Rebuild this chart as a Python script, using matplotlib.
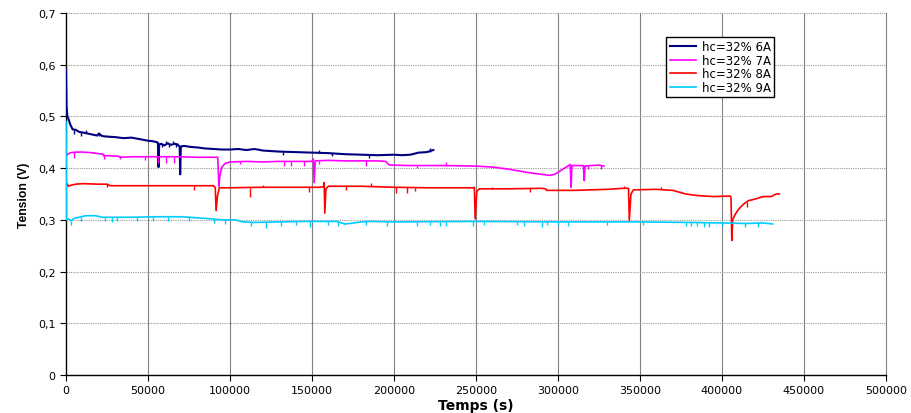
import matplotlib
matplotlib.use("Agg")
import matplotlib.pyplot as plt
from matplotlib.ticker import FuncFormatter, MultipleLocator

plt.rcParams['font.family'] = ['DejaVu Sans']

labels = ["hc=32% 6A", "hc=32% 7A", "hc=32% 8A", "hc=32% 9A"]
colors = ["#000080", "#FF00FF", "#FF0000", "#00CCFF"]

# main traces (time s, tension V)
s6 = [(0, 0.59), (300, 0.52), (800, 0.50), (1500, 0.495), (2500, 0.485), (4000, 0.475),
      (6000, 0.474), (8000, 0.470), (10000, 0.469), (13000, 0.467), (16000, 0.465),
      (19000, 0.463), (20000, 0.467), (22000, 0.462), (25000, 0.461), (30000, 0.460),
      (35000, 0.458), (40000, 0.459), (45000, 0.456), (50000, 0.453), (53000, 0.452),
      (55500, 0.450), (56000, 0.449), (56400, 0.402), (56800, 0.446), (58000, 0.447),
      (60000, 0.444), (62000, 0.448), (64000, 0.445), (66000, 0.447), (68000, 0.446),
      (69300, 0.441), (69600, 0.388), (70000, 0.442), (72000, 0.443), (76000, 0.441),
      (80000, 0.440), (85000, 0.438), (90000, 0.437), (95000, 0.436), (100000, 0.436),
      (105000, 0.437), (110000, 0.435), (115000, 0.437), (120000, 0.434), (125000, 0.433),
      (130000, 0.432), (140000, 0.431), (150000, 0.430), (160000, 0.429), (170000, 0.427),
      (180000, 0.426), (190000, 0.425), (200000, 0.426), (205000, 0.425), (210000, 0.426),
      (215000, 0.430), (220000, 0.431), (224000, 0.435)]

s7 = [(500, 0.425), (1500, 0.428), (3000, 0.430), (6000, 0.431), (10000, 0.431),
      (15000, 0.430), (20000, 0.428), (22500, 0.427), (23000, 0.424), (26000, 0.424),
      (32000, 0.423), (33000, 0.421), (40000, 0.422), (50000, 0.422), (60000, 0.422),
      (70000, 0.422), (80000, 0.421), (90000, 0.421), (92500, 0.421), (93200, 0.365),
      (93800, 0.385), (95000, 0.402), (97000, 0.409), (100000, 0.412), (110000, 0.413),
      (120000, 0.412), (130000, 0.413), (140000, 0.413), (150000, 0.413), (150800, 0.418),
      (151300, 0.372), (152000, 0.414), (160000, 0.415), (170000, 0.414), (180000, 0.414),
      (190000, 0.414), (195000, 0.413), (197000, 0.406), (210000, 0.405), (230000, 0.405),
      (250000, 0.404), (260000, 0.402), (270000, 0.398), (275000, 0.395), (285000, 0.390),
      (295000, 0.386), (298000, 0.388), (302000, 0.396), (306000, 0.404), (307500, 0.407),
      (308000, 0.363), (308500, 0.405), (312000, 0.405), (315500, 0.405), (316000, 0.376),
      (316500, 0.404), (320000, 0.405), (325000, 0.406), (328000, 0.404)]

s8 = [(0, 0.372), (500, 0.370), (1500, 0.365), (3000, 0.367), (6000, 0.369),
      (10000, 0.370), (20000, 0.369), (25000, 0.369), (27000, 0.366), (40000, 0.366),
      (60000, 0.366), (80000, 0.366), (90000, 0.366), (91000, 0.362), (91500, 0.318),
      (92300, 0.345), (93500, 0.362), (100000, 0.362), (120000, 0.363), (140000, 0.363),
      (155000, 0.363), (157000, 0.364), (157400, 0.372), (157800, 0.313), (158500, 0.360),
      (160000, 0.365), (180000, 0.365), (200000, 0.363), (220000, 0.362), (240000, 0.362),
      (248500, 0.362), (249000, 0.363), (249500, 0.302), (250500, 0.355), (252000, 0.360),
      (270000, 0.360), (290000, 0.361), (292500, 0.360), (293000, 0.357), (310000, 0.357),
      (330000, 0.359), (340000, 0.361), (343000, 0.361), (343500, 0.299), (344500, 0.350),
      (346000, 0.358), (360000, 0.359), (370000, 0.357), (378000, 0.350), (385000, 0.347),
      (395000, 0.345), (405000, 0.346), (405500, 0.344), (406000, 0.260), (406500, 0.300),
      (408000, 0.310), (410000, 0.320), (413000, 0.330), (416000, 0.337), (420000, 0.340),
      (425000, 0.345), (430000, 0.345), (433000, 0.350), (435000, 0.350)]

s9 = [(0, 0.49), (200, 0.300), (1500, 0.302), (3000, 0.298), (5000, 0.303), (8000, 0.305),
      (12000, 0.308), (18000, 0.308), (22000, 0.305), (30000, 0.305), (40000, 0.305),
      (55000, 0.306), (70000, 0.306), (80000, 0.304), (88000, 0.302), (95000, 0.300),
      (103000, 0.300), (108000, 0.296), (115000, 0.295), (130000, 0.296), (145000, 0.297),
      (155000, 0.297), (165000, 0.297), (170000, 0.292), (173000, 0.293), (180000, 0.296),
      (185000, 0.297), (200000, 0.296), (250000, 0.297), (300000, 0.296), (350000, 0.296),
      (380000, 0.295), (400000, 0.294), (415000, 0.293), (425000, 0.294), (431000, 0.292)]

# short glitches (time, base, tip)
g6 = [(20000, 0.462, 0.468), (132000, 0.432, 0.426), (154000, 0.430, 0.436),
      (162000, 0.429, 0.424), (185000, 0.425, 0.420), (222000, 0.431, 0.438),
      (58500, 0.447, 0.440), (61000, 0.446, 0.452), (63000, 0.446, 0.440),
      (65000, 0.446, 0.452), (67000, 0.446, 0.440), (5000, 0.474, 0.466),
      (9000, 0.470, 0.463), (12000, 0.468, 0.474)]
g7 = [(5000, 0.431, 0.420), (23000, 0.428, 0.418), (33000, 0.423, 0.418),
      (48000, 0.422, 0.415), (56000, 0.422, 0.410), (61000, 0.422, 0.410),
      (66000, 0.422, 0.410), (106000, 0.413, 0.408), (133000, 0.413, 0.405),
      (137000, 0.413, 0.404), (145000, 0.413, 0.405), (154000, 0.414, 0.408),
      (183000, 0.414, 0.405), (214000, 0.405, 0.400), (232000, 0.405, 0.411),
      (318000, 0.405, 0.399), (326000, 0.406, 0.399)]
g8 = [(25000, 0.369, 0.363), (78000, 0.366, 0.357), (112000, 0.362, 0.345),
      (120000, 0.363, 0.367), (148000, 0.363, 0.354), (171000, 0.365, 0.358),
      (186000, 0.365, 0.372), (201000, 0.363, 0.352), (208000, 0.363, 0.352),
      (213000, 0.362, 0.355), (260000, 0.360, 0.364), (283000, 0.361, 0.353),
      (340000, 0.361, 0.365), (363000, 0.359, 0.364), (415000, 0.335, 0.325)]
g9 = [(3000, 0.298, 0.290), (9000, 0.305, 0.297), (24000, 0.305, 0.297),
      (28000, 0.305, 0.296), (31000, 0.305, 0.297), (43000, 0.305, 0.298),
      (53000, 0.306, 0.298), (62000, 0.306, 0.298), (75000, 0.306, 0.298),
      (90000, 0.302, 0.294), (97000, 0.300, 0.292), (113000, 0.295, 0.288),
      (122000, 0.296, 0.285), (131000, 0.296, 0.289), (140000, 0.297, 0.290),
      (149000, 0.297, 0.287), (160000, 0.297, 0.290), (166000, 0.297, 0.289),
      (183000, 0.297, 0.290), (196000, 0.296, 0.289), (214000, 0.296, 0.289),
      (222000, 0.296, 0.290), (228000, 0.296, 0.289), (232000, 0.297, 0.289),
      (248000, 0.297, 0.288), (255000, 0.297, 0.290), (275000, 0.297, 0.290),
      (279000, 0.297, 0.289), (290000, 0.296, 0.287), (293000, 0.296, 0.290),
      (300000, 0.296, 0.290), (306000, 0.296, 0.289), (330000, 0.296, 0.291),
      (352000, 0.296, 0.290), (378000, 0.295, 0.289), (381000, 0.295, 0.288),
      (385000, 0.295, 0.289), (389000, 0.295, 0.287), (392000, 0.295, 0.287),
      (400000, 0.294, 0.288), (414000, 0.293, 0.287), (422000, 0.294, 0.286)]

series = [s6, s7, s8, s9]
glitches = [g6, g7, g8, g9]
widths = [1.5, 1.2, 1.2, 1.2]

fig = plt.figure(figsize=(9.11, 4.14), dpi=100)
ax = fig.add_axes([0.0725, 0.0918, 0.9, 0.8744])

for s, g, c, lab, w in zip(series, glitches, colors, labels, widths):
    xs = [p[0] for p in s]
    ys = [p[1] for p in s]
    ax.plot(xs, ys, color=c, lw=w, label=lab, zorder=3)
    ax.vlines([p[0] for p in g], [p[1] for p in g], [p[2] for p in g],
              color=c, lw=1.0, zorder=3)

ax.set_xlim(0, 500000)
ax.set_ylim(0, 0.7)
ax.xaxis.set_major_locator(MultipleLocator(50000))
ax.yaxis.set_major_locator(MultipleLocator(0.1))
ax.yaxis.set_major_formatter(FuncFormatter(lambda v, p: "0" if abs(v) < 1e-9 else f"{v:.1f}".replace(".", ",")))
ax.xaxis.set_major_formatter(FuncFormatter(lambda v, p: f"{int(round(v))}"))

ax.grid(False)
for xv in range(50000, 500001, 50000):
    ax.axvline(xv, color="#808080", lw=0.8, zorder=1, clip_on=False)
for yv in [0.1, 0.2, 0.3, 0.4, 0.5, 0.6, 0.7]:
    ax.axhline(yv, color="#9a9a9a", lw=0.8, ls=(0, (1, 1)), zorder=1, clip_on=False)

for sp in ["top", "right"]:
    ax.spines[sp].set_visible(False)
ax.spines["left"].set_color("black")
ax.spines["bottom"].set_color("black")
ax.spines["left"].set_linewidth(1.0)
ax.spines["bottom"].set_linewidth(1.0)

ax.tick_params(axis="both", labelsize=8, length=4, width=0.8, colors="black")
ax.set_xlabel("Temps (s)", fontsize=10, fontweight="bold", labelpad=2)
ax.set_ylabel("Tension (V)", fontsize=8.7, fontweight="bold", labelpad=6,
              family=["Liberation Sans", "DejaVu Sans"])

leg = ax.legend(loc="upper left", bbox_to_anchor=(0.732, 0.935), fontsize=8.5,
                frameon=True, fancybox=False, edgecolor="black", framealpha=1,
                handlelength=2.2, handletextpad=0.5, labelspacing=0.05,
                borderpad=0.3, borderaxespad=0)
leg.get_frame().set_linewidth(1.0)

fig.savefig("out.png", dpi=100)
